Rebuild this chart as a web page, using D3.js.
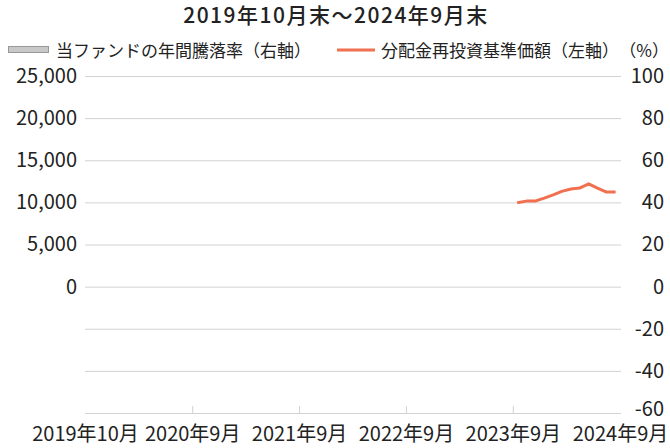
<!DOCTYPE html>
<html lang="ja">
<head>
    <meta charset="UTF-8">
    <title>分配金再投資基準価額</title>
    <script src="https://d3js.org/d3.v7.min.js"></script>
    <style>
        body { margin: 0; background: #fff; }
        svg text { font-family: "Noto Sans CJK JP", "Noto Sans", sans-serif; fill: #222; }
    </style>
</head>
<body>
    <div id="chart"></div>

    <script>
        // data
        const navMonths = ["2023-10", "2023-11", "2023-12", "2024-01", "2024-02", "2024-03",
                           "2024-04", "2024-05", "2024-06", "2024-07", "2024-08", "2024-09"];
        const navValues = [9950, 10150, 10150, 10500, 10900, 11300,
                           11580, 11700, 12200, 11700, 11220, 11220];
        const leftTicks = [0, 5000, 10000, 15000, 20000, 25000];
        const rightTicks = [-60, -40, -20, 0, 20, 40, 60, 80, 100];
        const xTickMonths = ["2019-10", "2020-10", "2021-10", "2022-10", "2023-10", "2024-10"];
        const xTickLabels = ["2019年10月", "2020年9月", "2021年9月", "2022年9月", "2023年9月", "2024年9月"];

        const W = 670, H = 448;
        const plot = { left: 85, right: 621, top: 76, bottom: 413 };

        const parseMonth = d3.timeParse("%Y-%m");

        const svg = d3.select("#chart").append("svg")
            .attr("width", W)
            .attr("height", H);

        const x = d3.scaleTime()
            .domain([parseMonth("2019-10"), parseMonth("2024-10")])
            .range([plot.left, 620]);
        const yRight = d3.scaleLinear().domain([-60, 100]).range([plot.bottom, plot.top]);
        const yLeft = d3.scaleLinear().domain([-15000, 25000]).range([plot.bottom, plot.top]);

        // title
        svg.append("text")
            .attr("x", 336).attr("y", 23)
            .attr("text-anchor", "middle")
            .style("font-size", "21px")
            .style("font-weight", 500)
            .style("letter-spacing", "1.5px")
            .text("2019年10月末～2024年9月末");

        // legend
        const legend = svg.append("g").style("font-size", "17px");
        legend.append("rect")
            .attr("x", 8.5).attr("y", 46.5).attr("width", 40).attr("height", 6)
            .attr("fill", "#c8c8c8").attr("stroke", "#999");
        legend.append("text").attr("x", 56).attr("y", 57).text("当ファンドの年間騰落率（右軸）");
        legend.append("line")
            .attr("x1", 337).attr("x2", 375).attr("y1", 50).attr("y2", 50)
            .attr("stroke", "#f0704f").attr("stroke-width", 3);
        legend.append("text").attr("x", 381).attr("y", 57).text("分配金再投資基準価額（左軸）");
        legend.append("text").attr("x", 669).attr("y", 57).attr("text-anchor", "end").text("（%）");

        const fmtPct = d => d < 0 ? "-" + Math.abs(d) : String(d);

        // gridlines + right axis labels
        const rightAxis = svg.append("g")
            .attr("transform", `translate(${plot.right},0)`)
            .call(d3.axisRight(yRight).tickValues(rightTicks).tickFormat(fmtPct)
                .tickSize(-(plot.right - plot.left)).tickPadding(43));
        rightAxis.select(".domain").remove();
        rightAxis.selectAll(".tick line").attr("stroke", "#d2d2d2");
        rightAxis.selectAll("text")
            .attr("text-anchor", "end")
            .attr("dy", d => d === -60 ? "0.12em" : "0.32em")
            .style("font-size", "20px")
            .style("font-family", null);

        // left axis labels
        const leftAxis = svg.append("g")
            .attr("transform", `translate(${plot.left},0)`)
            .call(d3.axisLeft(yLeft).tickValues(leftTicks).tickFormat(d3.format(",")).tickSize(0).tickPadding(8));
        leftAxis.select(".domain").remove();
        leftAxis.selectAll("text")
            .style("font-size", "20px")
            .style("font-family", null);

        // bottom axis
        const xAxis = svg.append("g")
            .attr("transform", `translate(0,${plot.bottom})`)
            .call(d3.axisBottom(x)
                .tickValues(xTickMonths.map(parseMonth))
                .tickFormat((d, i) => xTickLabels[i])
                .tickSize(-7)
                .tickPadding(14));
        xAxis.select(".domain").remove();
        xAxis.selectAll(".tick line")
            .attr("stroke", "#d2d2d2")
            .attr("display", (d, i) => (i === 0 || i === xTickMonths.length - 1) ? "none" : null);
        xAxis.selectAll("text")
            .style("font-size", "20px")
            .style("font-family", null);

        // NAV line, points at mid-month
        const navData = navMonths.map((m, i) => ({ date: d3.timeDay.offset(parseMonth(m), 15), value: navValues[i] }));
        svg.append("path")
            .datum(navData)
            .attr("fill", "none")
            .attr("stroke", "#f0704f")
            .attr("stroke-width", 3)
            .attr("stroke-linejoin", "round")
            .attr("d", d3.line().x(d => x(d.date)).y(d => yLeft(d.value)));
    </script>
</body>
</html>
